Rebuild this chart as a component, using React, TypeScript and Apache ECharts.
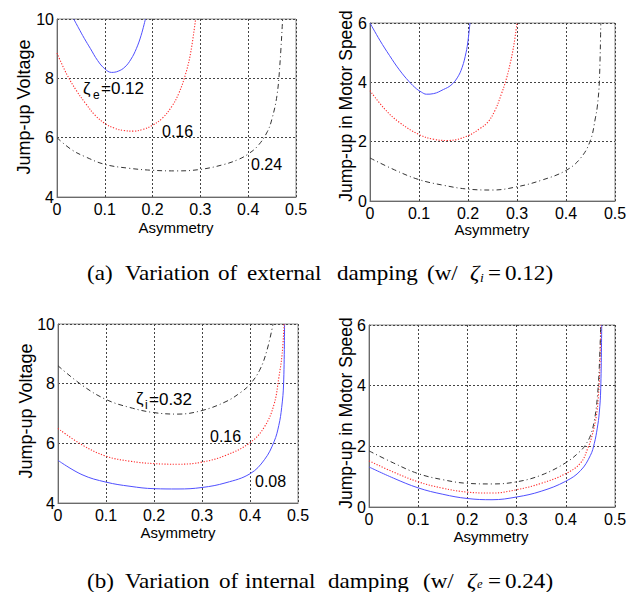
import React, { useEffect, useRef } from "react";
import * as echarts from "echarts";

// ---------- data ----------
const xTicks = [0, 0.1, 0.2, 0.3, 0.4, 0.5];
const voltageRange = [4, 10];
const speedRange = [0, 6];

// (a) external damping variation: zeta_e = 0.12 (blue), 0.16 (red), 0.24 (black)
const aVoltBlueX = [0.035, 0.045, 0.057, 0.07, 0.085, 0.1, 0.114, 0.128, 0.142, 0.155, 0.166, 0.176, 0.185];
const aVoltBlueY = [10, 9.7, 9.35, 9.0, 8.6, 8.32, 8.2, 8.24, 8.38, 8.65, 9.0, 9.45, 10];
const aVoltRedX = [0, 0.02, 0.04, 0.06, 0.08, 0.1, 0.12, 0.14, 0.16, 0.18, 0.2, 0.22, 0.24, 0.255, 0.27, 0.28, 0.29];
const aVoltRedY = [8.85, 8.15, 7.6, 7.15, 6.75, 6.48, 6.32, 6.24, 6.22, 6.28, 6.42, 6.65, 7.05, 7.5, 8.2, 8.9, 10];
const aVoltBlackX = [0, 0.03, 0.06, 0.1, 0.15, 0.2, 0.25, 0.3, 0.35, 0.38, 0.4, 0.42, 0.44, 0.45, 0.46, 0.466, 0.472];
const aVoltBlackY = [6.0, 5.6, 5.35, 5.1, 4.97, 4.9, 4.88, 4.93, 5.1, 5.27, 5.45, 5.72, 6.2, 6.65, 7.4, 8.4, 10];

const aSpeedBlueX = [0, 0.02, 0.04, 0.06, 0.08, 0.095, 0.105, 0.115, 0.13, 0.15, 0.165, 0.178, 0.188, 0.196, 0.2, 0.204];
const aSpeedBlueY = [6.0, 5.42, 4.9, 4.42, 4.02, 3.78, 3.67, 3.6, 3.62, 3.76, 3.9, 4.15, 4.5, 5.0, 5.4, 6.0];
const aSpeedRedX = [0, 0.03, 0.06, 0.1, 0.13, 0.16, 0.2, 0.225, 0.24, 0.255, 0.268, 0.278, 0.287, 0.294, 0.3];
const aSpeedRedY = [3.72, 3.1, 2.65, 2.24, 2.08, 2.04, 2.2, 2.45, 2.65, 3.05, 3.6, 4.1, 4.7, 5.3, 6.0];
const aSpeedBlackX = [0, 0.05, 0.1, 0.15, 0.2, 0.25, 0.3, 0.35, 0.4, 0.43, 0.45, 0.46, 0.464, 0.468, 0.471];
const aSpeedBlackY = [1.45, 1.05, 0.72, 0.53, 0.4, 0.37, 0.48, 0.7, 1.03, 1.45, 2.05, 2.8, 3.2, 4.0, 6.0];

// (b) internal damping variation: zeta_i = 0.08 (blue), 0.16 (red), 0.32 (black)
const bVoltBlueX = [0, 0.05, 0.1, 0.15, 0.2, 0.25, 0.3, 0.35, 0.4, 0.43, 0.45, 0.46, 0.466, 0.47, 0.472];
const bVoltBlueY = [5.43, 4.95, 4.7, 4.56, 4.48, 4.47, 4.52, 4.68, 4.98, 5.45, 6.05, 6.6, 7.2, 8.0, 10];
const bVoltRedX = [0, 0.05, 0.1, 0.15, 0.2, 0.25, 0.3, 0.35, 0.4, 0.43, 0.45, 0.46, 0.467, 0.471];
const bVoltRedY = [6.5, 5.95, 5.57, 5.4, 5.32, 5.3, 5.37, 5.6, 6.02, 6.55, 7.3, 8.2, 9.0, 10];
const bVoltBlackX = [0, 0.05, 0.1, 0.15, 0.2, 0.25, 0.3, 0.35, 0.38, 0.4, 0.42, 0.435, 0.448];
const bVoltBlackY = [8.6, 7.95, 7.47, 7.2, 7.03, 6.98, 7.1, 7.4, 7.7, 7.98, 8.45, 9.1, 10];

const bSpeedBlueX = [0, 0.05, 0.1, 0.15, 0.2, 0.25, 0.3, 0.35, 0.4, 0.43, 0.45, 0.458, 0.464, 0.468, 0.471, 0.473];
const bSpeedBlueY = [1.32, 0.95, 0.63, 0.42, 0.28, 0.24, 0.33, 0.52, 0.85, 1.2, 1.7, 2.1, 2.6, 3.1, 3.9, 6.0];
const bSpeedRedX = [0, 0.05, 0.1, 0.15, 0.2, 0.25, 0.3, 0.35, 0.4, 0.43, 0.445, 0.455, 0.462, 0.466, 0.469, 0.471];
const bSpeedRedY = [1.52, 1.15, 0.83, 0.62, 0.49, 0.46, 0.57, 0.78, 1.1, 1.45, 1.95, 2.45, 3.0, 3.6, 4.5, 6.0];
const bSpeedBlackX = [0, 0.05, 0.1, 0.15, 0.2, 0.25, 0.3, 0.35, 0.4, 0.43, 0.44, 0.45, 0.458, 0.464, 0.468, 0.471];
const bSpeedBlackY = [1.85, 1.45, 1.1, 0.9, 0.78, 0.76, 0.83, 1.05, 1.46, 1.85, 2.05, 2.35, 2.85, 3.6, 4.6, 6.0];

const yNameVoltage = "Jump-up Voltage";
const yNameSpeed = "Jump-up in Motor Speed";
const xName = "Asymmetry";

// ---------- helpers ----------
const zip = (xs: number[], ys: number[]) => xs.map((x, i) => [x, ys[i]]);

const SANS = "'Liberation Sans', Arial, Helvetica, sans-serif";
const SERIF = "'Liberation Serif', 'Times New Roman', Times, serif";

const BLUE = { color: "#4f4fff", width: 1, type: "solid" as any };
const RED = { color: "#ff2a2a", width: 1.1, type: [1.2, 1.6] as any };
const BLACK = { color: "#333333", width: 1, type: [5, 3, 1, 3] as any };

export default function App() {
  const ref = useRef<HTMLDivElement>(null);

  useEffect(() => {
    if (!ref.current) return;
    const chart = echarts.init(ref.current, undefined, { renderer: "svg" });

    const panels = [
      { left: 57, top: 19, width: 239, height: 178, range: voltageRange },
      { left: 370, top: 23, width: 245, height: 178, range: speedRange },
      { left: 58, top: 324, width: 240, height: 179, range: voltageRange },
      { left: 369, top: 325, width: 246, height: 182, range: speedRange },
    ];

    const grid = panels.map((p) => ({
      left: p.left,
      top: p.top,
      width: p.width,
      height: p.height,
      show: true,
      borderColor: "#8c8c8c",
      borderWidth: 1,
      backgroundColor: "transparent",
    }));

    const xAxis = panels.map((_, i) => ({
      type: "value",
      gridIndex: i,
      min: xTicks[0],
      max: xTicks[xTicks.length - 1],
      interval: 0.1,
      axisLine: { show: true, lineStyle: { color: "#6a6a6a", width: 1 } },
      axisTick: { show: false },
      axisLabel: {
        color: "#000",
        fontSize: 16,
        fontFamily: SANS,
        margin: 4,
        formatter: (v: number) => (v === 0 ? "0" : v.toFixed(1)),
      },
      splitLine: { show: true, lineStyle: { color: "#444", width: 1, type: [2, 2] } },
    }));

    const yAxis = panels.map((p, i) => ({
      type: "value",
      gridIndex: i,
      min: p.range[0],
      max: p.range[1],
      interval: 2,
      axisLine: { show: true, lineStyle: { color: "#6a6a6a", width: 1 } },
      axisTick: { show: false },
      axisLabel: { color: "#000", fontSize: 16, fontFamily: SANS, margin: 3 },
      splitLine: { show: true, lineStyle: { color: "#444", width: 1, type: [2, 2] } },
    }));

    const mk = (name: string, idx: number, xs: number[], ys: number[], ls: any) => ({
      name,
      type: "line",
      xAxisIndex: idx,
      yAxisIndex: idx,
      data: zip(xs, ys),
      showSymbol: false,
      smooth: 0.4,
      lineStyle: ls,
      clip: true,
      silent: true,
    });

    const series = [
      mk("a-volt-0.12", 0, aVoltBlueX, aVoltBlueY, BLUE),
      mk("a-volt-0.16", 0, aVoltRedX, aVoltRedY, RED),
      mk("a-volt-0.24", 0, aVoltBlackX, aVoltBlackY, BLACK),
      mk("a-speed-0.12", 1, aSpeedBlueX, aSpeedBlueY, BLUE),
      mk("a-speed-0.16", 1, aSpeedRedX, aSpeedRedY, RED),
      mk("a-speed-0.24", 1, aSpeedBlackX, aSpeedBlackY, BLACK),
      mk("b-volt-0.08", 2, bVoltBlueX, bVoltBlueY, BLUE),
      mk("b-volt-0.16", 2, bVoltRedX, bVoltRedY, RED),
      mk("b-volt-0.32", 2, bVoltBlackX, bVoltBlackY, BLACK),
      mk("b-speed-0.08", 3, bSpeedBlueX, bSpeedBlueY, BLUE),
      mk("b-speed-0.16", 3, bSpeedRedX, bSpeedRedY, RED),
      mk("b-speed-0.32", 3, bSpeedBlackX, bSpeedBlackY, BLACK),
    ];

    const txt = (
      text: string,
      x: number,
      y: number,
      size: number,
      opts: { family?: string; align?: string; italic?: boolean; rotation?: number; scaleX?: number } = {}
    ) => ({
      type: "text",
      x,
      y,
      rotation: opts.rotation || 0,
      scaleX: opts.scaleX || 1,
      silent: true,
      z: 100,
      style: {
        text,
        fill: "#000",
        fontSize: size,
        fontFamily: opts.family || SANS,
        fontStyle: opts.italic ? "italic" : "normal",
        align: opts.align || "left",
        verticalAlign: "middle",
        textAlign: opts.align || "left",
        textVerticalAlign: "middle",
      },
    });

    const cap = (text: string, x: number, y: number, italic = false, size = 22) =>
      txt(text, x, y, size, { family: SERIF, italic, scaleX: 1.05 });

    const graphic: any[] = [
      // axis names
      txt(yNameVoltage, 24, 107, 18, { align: "center", rotation: Math.PI / 2 }),
      txt(yNameSpeed, 346, 106, 17.5, { align: "center", rotation: Math.PI / 2 }),
      txt(yNameVoltage, 26, 411, 18, { align: "center", rotation: Math.PI / 2 }),
      txt(yNameSpeed, 346, 413, 17.5, { align: "center", rotation: Math.PI / 2 }),
      txt(xName, 176, 227.5, 15, { align: "center" }),
      txt(xName, 492, 229.5, 15, { align: "center" }),
      txt(xName, 178, 532.5, 15, { align: "center" }),
      txt(xName, 491, 536.5, 15, { align: "center" }),
      // labels panel (a) voltage
      txt("ζ", 83, 88.5, 17),
      txt("e", 93, 95, 12),
      txt("=0.12", 101, 88.5, 17),
      txt("0.16", 162, 131, 16),
      txt("0.24", 251, 164, 16),
      // labels panel (b) voltage
      txt("ζ", 136, 398, 17),
      txt("i", 145, 405, 12),
      txt("=0.32", 149, 399, 17),
      txt("0.16", 210, 436, 16),
      txt("0.08", 255, 481, 16),
      // caption (a)
      cap("(a)", 87, 272.5),
      cap("Variation", 125, 272.5),
      cap("of", 218, 272.5),
      cap("external", 247, 272.5),
      cap("damping", 337, 272.5),
      cap("(w/", 427, 272.5),
      cap("ζ", 470, 272.5, true),
      cap("i", 480, 278, true, 13),
      cap("=", 488, 272.5),
      cap("0.12)", 505, 272.5),
      // caption (b)
      cap("(b)", 87, 581),
      cap("Variation", 125, 581),
      cap("of", 219, 581),
      cap("internal", 245, 581),
      cap("damping", 328, 581),
      cap("(w/", 423, 581),
      cap("ζ", 467, 581, true),
      cap("e", 477, 584.5, true, 12),
      cap("=", 488, 581),
      cap("0.24)", 505, 581),
    ];

    chart.setOption({
      animation: false,
      backgroundColor: "#ffffff",
      grid,
      xAxis,
      yAxis,
      series,
      graphic,
    } as any);

    return () => chart.dispose();
  }, []);

  return (
    <div
      ref={ref}
      style={{ position: "fixed", left: 0, top: 0, width: 641, height: 592, background: "#fff" }}
    />
  );
}
